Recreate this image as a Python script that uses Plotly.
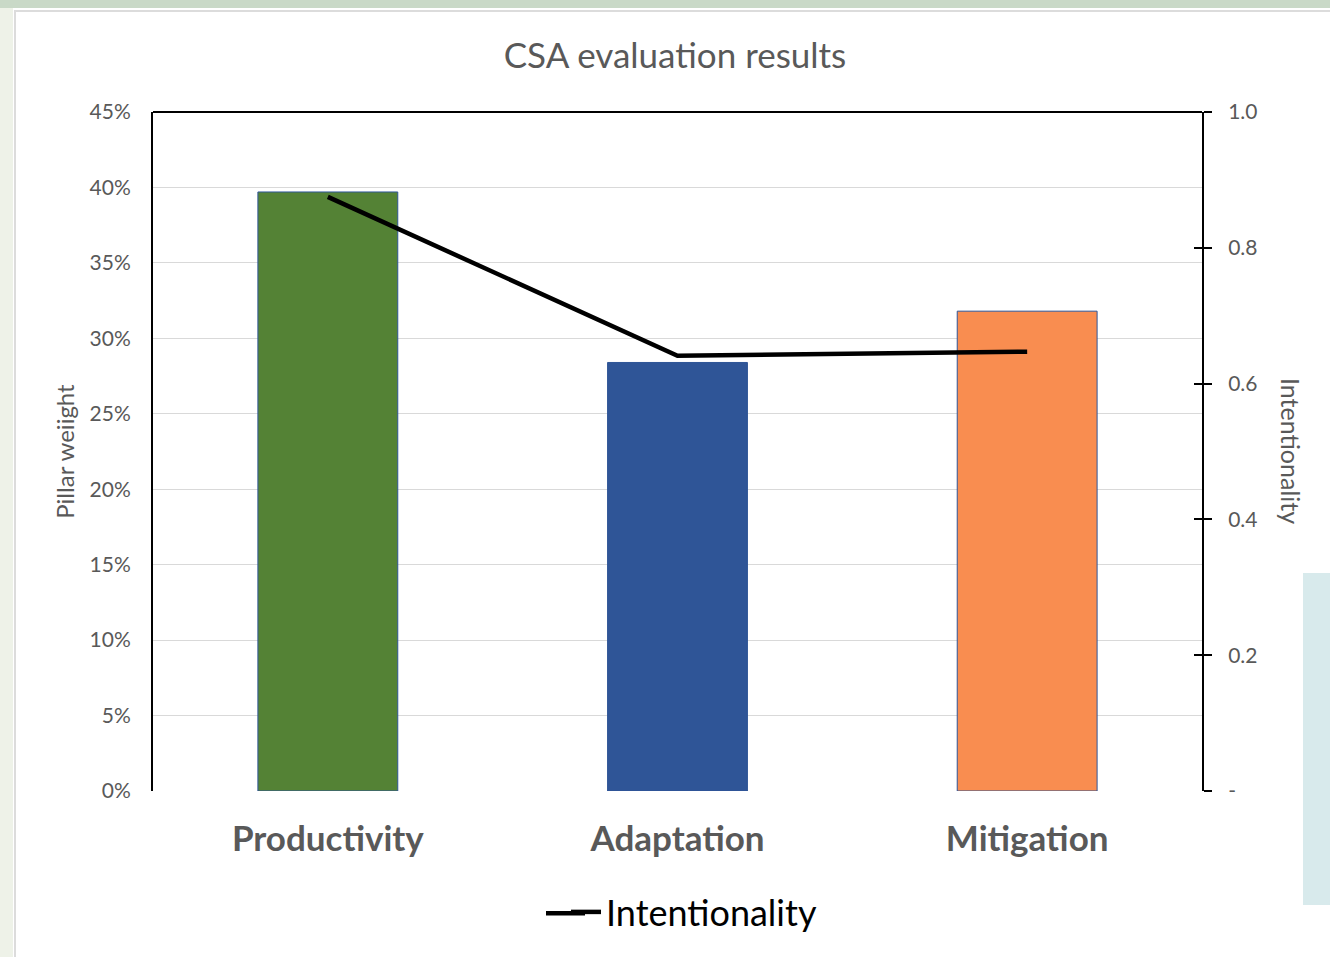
import plotly.graph_objects as go

categories = ["Productivity", "Adaptation", "Mitigation"]
pillar_weight = [0.397, 0.284, 0.318]
intentionality = [0.875, 0.641, 0.647]
bar_colors = ["#548235", "#2F5597", "#F98D50"]
left_ticks = [0, 0.05, 0.10, 0.15, 0.20, 0.25, 0.30, 0.35, 0.40, 0.45]
left_ticktext = ["0%", "5%", "10%", "15%", "20%", "25%", "30%", "35%", "40%", "45%"]
right_ticks = [0, 0.2, 0.4, 0.6, 0.8, 1.0]
right_ticktext = ["-", "0.2", "0.4", "0.6", "0.8", "1.0"]

W, H = 1330, 957
L, R, T, B = 153, 1202, 112, 791

def px(x):
    return (x - L) / (R - L)

def py(y):
    return (B - y) / (B - T)

fig = go.Figure()
fig.add_trace(go.Bar(
    x=categories, y=pillar_weight, marker=dict(color=bar_colors, line=dict(color="#2F5597", width=1)),
    width=0.4, showlegend=False, name="Pillar weight"))
fig.add_trace(go.Scatter(
    x=categories, y=intentionality, yaxis="y2", mode="lines",
    line=dict(color="black", width=4.5), name="Intentionality"))
# invisible helper trace so the inner tick half of the right axis is drawn
fig.add_trace(go.Scatter(x=categories, y=intentionality, yaxis="y3", mode="lines",
                         line=dict(width=0), showlegend=False, hoverinfo="skip"))

grey = "#595959"
fig.update_layout(
    width=W, height=H,
    margin=dict(l=L, r=W - R, t=T, b=H - B),
    paper_bgcolor="white", plot_bgcolor="white",
    font=dict(family="Lato", color=grey),
    title=dict(text="CSA evaluation results", x=px(675), xanchor="center", xref="paper",
               y=1 - 56 / H, yanchor="middle", font=dict(size=35, color=grey)),
    xaxis=dict(showgrid=False, showline=False, ticks="", zeroline=False,
               tickfont=dict(size=35, color=grey, family="Lato", weight="bold"),
               ticklabelstandoff=24),
    yaxis=dict(range=[0, 0.45], tickvals=left_ticks, ticktext=left_ticktext,
               showgrid=True, gridcolor="#d9d9d9", gridwidth=1.3, zeroline=False,
               showline=True, linecolor="black", linewidth=2,
               tickfont=dict(size=21, color=grey), ticklabelstandoff=16,
               title=dict(text="Pillar weiight", font=dict(size=24, color=grey), standoff=8)),
    yaxis2=dict(range=[0, 1.0], overlaying="y", side="right", tickvals=right_ticks, ticktext=right_ticktext,
                showgrid=False, zeroline=False, showline=True, linecolor="black", linewidth=2,
                ticks="outside", ticklen=8, tickwidth=1.5, tickcolor="black",
                tickfont=dict(size=21, color=grey), ticklabelstandoff=12),
    yaxis3=dict(range=[0, 1.0], overlaying="y", side="right", tickvals=right_ticks,
                showticklabels=False, showgrid=False, zeroline=False, showline=False,
                ticks="inside", ticklen=8, tickwidth=1.5, tickcolor="black"),
    legend=dict(orientation="h", x=px(694), xanchor="center", y=py(912), yanchor="middle",
                font=dict(size=36, color="black", family="Lato"),
                bgcolor="rgba(0,0,0,0)"),
    showlegend=True,
)

fig.add_annotation(text="Intentionality", textangle=90, xref="paper", yref="paper",
                   x=px(1291), y=py(451), xanchor="center", yanchor="middle",
                   showarrow=False, font=dict(size=25, color=grey))

shapes = [
    dict(type="line", xref="paper", yref="paper", x0=0, x1=1, y0=1, y1=1,
         line=dict(color="black", width=2)),
    # extension of the legend line sample to the reference's longer swatch
    dict(type="line", xref="paper", yref="paper", x0=px(546), x1=px(585), y0=py(913.2), y1=py(913.2),
         line=dict(color="black", width=4.5)),
    dict(type="rect", xref="paper", yref="paper", x0=px(0), x1=px(1330), y0=py(0), y1=py(8),
         fillcolor="#c9d9c7", line=dict(width=0), layer="below"),
    dict(type="rect", xref="paper", yref="paper", x0=px(0), x1=px(13), y0=py(8), y1=py(957),
         fillcolor="#eef2e8", line=dict(width=0), layer="below"),
    dict(type="line", xref="paper", yref="paper", x0=px(15), x1=px(15), y0=py(10), y1=py(957),
         line=dict(color="#dcdcdc", width=2)),
    dict(type="line", xref="paper", yref="paper", x0=px(15), x1=px(1330), y0=py(11), y1=py(11),
         line=dict(color="#dcdcdc", width=2)),
    dict(type="rect", xref="paper", yref="paper", x0=px(1303), x1=px(1345), y0=py(573), y1=py(905),
         fillcolor="#d8eaec", line=dict(width=0), layer="below"),
]
fig.update_layout(shapes=shapes)

fig.write_html("out.html", config={"displayModeBar": False},
               post_script="document.body.style.margin='0px';")
